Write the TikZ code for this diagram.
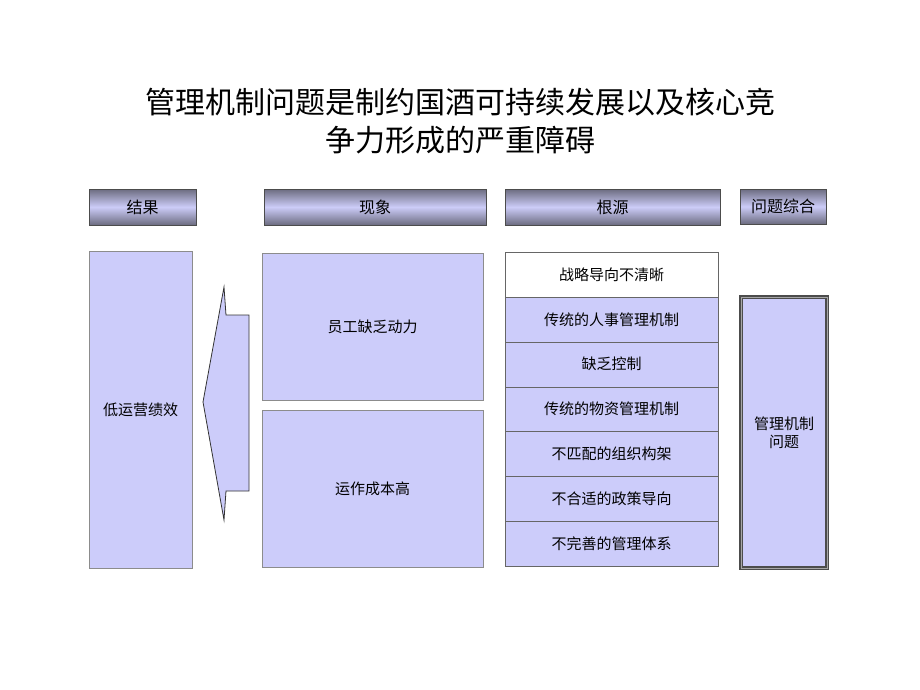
\documentclass[tikz,border=0pt]{standalone}
\usepackage{fontspec}
\setmainfont{Noto Sans CJK SC}
\usetikzlibrary{positioning}
\definecolor{lav}{RGB}{204,204,250}
\definecolor{hdmid}{RGB}{204,204,248}
\definecolor{hdedge}{RGB}{108,108,128}

\begin{document}
\begin{tikzpicture}[x=1pt,y=-1pt,node distance=0pt and 0pt,
    header/.style={rectangle,minimum height=36pt,inner sep=0pt,outer sep=0pt,draw=black!70,top color=hdedge,bottom color=hdedge,middle color=hdmid,font=\fontsize{16}{18}\selectfont},
    bigbox/.style={rectangle,inner sep=0pt,outer sep=0pt,fill=lav,draw=black!45,font=\fontsize{15}{18}\selectfont},
    rootcell/.style={rectangle,minimum width=213pt,minimum height=44.9pt,inner sep=0pt,outer sep=0pt,fill=lav,draw=black!60,font=\fontsize{15}{18}\selectfont},
   ]

    \fill[white] (0,0) rectangle (920,690);
    \useasboundingbox (0,0) rectangle (920,690);

    \node (title) at (460,121) [align=center,font=\fontsize{30}{38}\selectfont] {管理机制问题是制约国酒可持续发展以及核心竞\\争力形成的严重障碍};

    % headers
    \node (hresult) [header,anchor=north west,minimum width=107pt] at (89,189) {结果};
    \node (hphen)   [header,anchor=north west,minimum width=222pt] at (264,189) {现象};
    \node (hroot)   [header,anchor=north west,minimum width=215pt] at (505,189) {根源};
    \node (hsum)    [header,anchor=north west,minimum width=86pt,minimum height=35pt] at (740,189) {问题综合};

    % result
    \node (result) [bigbox,anchor=north west,minimum width=103pt,minimum height=317pt] at (89,251) {低运营绩效};

    % phenomena
    \node (phen1) [bigbox,anchor=north west,minimum width=221pt,minimum height=147pt] at (262,253) {员工缺乏动力};
    \node (phen2) [bigbox,anchor=north west,minimum width=221pt,minimum height=157pt] at (262,410) {运作成本高};

    % roots
    \node (root1) [rootcell,anchor=north west,fill=white] at (505,252) {战略导向不清晰};
    \node (root2) [rootcell,below=of root1] {传统的人事管理机制};
    \node (root3) [rootcell,below=of root2] {缺乏控制};
    \node (root4) [rootcell,below=of root3] {传统的物资管理机制};
    \node (root5) [rootcell,below=of root4] {不匹配的组织构架};
    \node (root6) [rootcell,below=of root5] {不合适的政策导向};
    \node (root7) [rootcell,below=of root6] {不完善的管理体系};

    % summary
    \node (sum) [bigbox,anchor=north west,minimum width=86pt,minimum height=271pt,align=center,
        draw=black!70,line width=1.2pt,double=black!35,double distance=0.8pt] at (741,297) {管理机制\\问题};

    % arrow
    \draw[fill=lav,draw=black!80,thick] (203,402) -- (224,287) -- (226,315) -- (249,315)
        -- (249,491) -- (226,491) -- (224,520) -- cycle;
  \end{tikzpicture}
\end{document}
